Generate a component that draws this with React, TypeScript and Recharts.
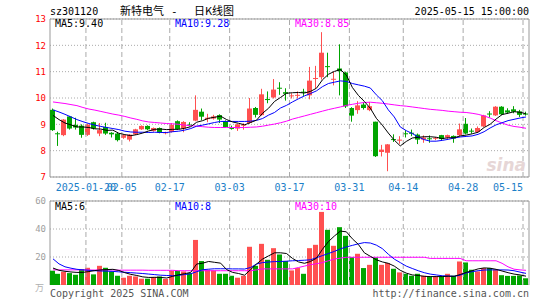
import { ComposedChart, Bar, Line, XAxis, YAxis, CartesianGrid, ReferenceLine, ReferenceArea } from "recharts";

const dates = [
  "2025-01-10", "2025-01-13", "2025-01-14", "2025-01-15", "2025-01-16", "2025-01-17", "2025-01-20", "2025-01-21",
  "2025-01-22", "2025-01-23", "2025-01-24", "2025-01-27", "2025-02-05", "2025-02-06", "2025-02-07", "2025-02-10",
  "2025-02-11", "2025-02-12", "2025-02-13", "2025-02-14", "2025-02-17", "2025-02-18", "2025-02-19", "2025-02-20",
  "2025-02-21", "2025-02-24", "2025-02-25", "2025-02-26", "2025-02-27", "2025-02-28", "2025-03-03", "2025-03-04",
  "2025-03-05", "2025-03-06", "2025-03-07", "2025-03-10", "2025-03-11", "2025-03-12", "2025-03-13", "2025-03-14",
  "2025-03-17", "2025-03-18", "2025-03-19", "2025-03-20", "2025-03-21", "2025-03-24", "2025-03-25", "2025-03-26",
  "2025-03-27", "2025-03-28", "2025-03-31", "2025-04-01", "2025-04-02", "2025-04-03", "2025-04-07", "2025-04-08",
  "2025-04-09", "2025-04-10", "2025-04-11", "2025-04-14", "2025-04-15", "2025-04-16", "2025-04-17", "2025-04-18",
  "2025-04-21", "2025-04-22", "2025-04-23", "2025-04-24", "2025-04-25", "2025-04-28", "2025-04-29", "2025-04-30",
  "2025-05-06", "2025-05-07", "2025-05-08", "2025-05-09", "2025-05-12", "2025-05-13", "2025-05-14", "2025-05-15",
];

const open = [
  9.55, 8.66, 8.59, 9.30, 8.98, 8.95, 8.60, 9.08, 8.65, 8.90, 8.68, 8.65, 8.49, 8.42, 8.62, 8.81,
  8.94, 8.75, 8.86, 8.66, 8.71, 9.12, 8.84, 8.99, 9.14, 9.48, 9.20, 9.22, 9.35, 9.12, 8.86, 8.84,
  8.95, 9.05, 9.62, 9.35, 9.96, 10.02, 10.39, 10.22, 10.08, 10.09, 10.24, 10.10, 10.74, 10.79, 11.21, 10.70,
  11.12, 10.97, 9.62, 9.54, 9.75, 9.54, 9.10, 7.95, 7.92, 8.44, 8.38, 8.66, 8.68, 8.61, 8.42, 8.47,
  8.46, 8.59, 8.50, 8.56, 8.59, 9.02, 8.76, 8.71, 8.92, 9.41, 9.34, 9.67, 9.53, 9.57, 9.49, 9.41,
];
const close = [
  8.78, 8.64, 9.18, 8.84, 8.88, 8.60, 8.99, 8.84, 8.78, 8.65, 8.62, 8.40, 8.59, 8.61, 8.81, 8.94,
  8.81, 8.86, 8.68, 8.70, 8.98, 8.82, 9.09, 8.97, 9.55, 9.29, 9.25, 9.30, 9.18, 8.90, 8.84, 9.00,
  8.99, 9.60, 9.36, 10.14, 9.94, 10.32, 10.36, 10.16, 10.10, 10.12, 10.20, 10.66, 10.76, 11.72, 11.18, 10.73,
  11.02, 9.68, 9.33, 9.72, 9.62, 9.69, 7.79, 8.04, 8.24, 8.42, 8.42, 8.64, 8.66, 8.42, 8.50, 8.45,
  8.49, 8.44, 8.59, 8.46, 8.81, 8.65, 8.74, 8.86, 9.34, 9.39, 9.67, 9.38, 9.45, 9.48, 9.36, 9.37,
];
const high = [
  9.60, 8.72, 9.20, 9.32, 9.25, 9.00, 9.02, 9.10, 9.05, 9.06, 8.70, 8.70, 8.62, 8.63, 8.83, 8.96,
  8.96, 8.88, 8.88, 8.72, 9.05, 9.15, 9.12, 9.08, 10.10, 9.60, 9.40, 9.36, 9.38, 9.15, 8.95, 9.02,
  9.04, 10.00, 9.66, 10.35, 10.25, 10.72, 10.60, 10.37, 10.18, 10.25, 10.35, 11.18, 11.22, 12.50, 11.72, 11.00,
  12.04, 11.00, 9.65, 9.88, 9.85, 9.85, 9.10, 8.22, 8.25, 8.62, 8.55, 8.78, 8.80, 8.65, 8.58, 8.58,
  8.52, 8.60, 8.61, 8.58, 9.03, 9.24, 8.84, 8.92, 9.36, 9.50, 9.69, 9.69, 9.61, 9.69, 9.55, 9.48,
];
const low = [
  8.75, 8.18, 8.55, 8.80, 8.80, 8.49, 8.56, 8.80, 8.55, 8.60, 8.50, 8.35, 8.45, 8.35, 8.60, 8.79,
  8.78, 8.72, 8.66, 8.62, 8.69, 8.80, 8.70, 8.92, 9.12, 9.16, 9.08, 9.18, 9.05, 8.88, 8.80, 8.75,
  8.80, 9.02, 9.26, 9.33, 9.80, 9.98, 10.12, 9.90, 9.98, 9.98, 10.08, 9.95, 10.35, 10.70, 10.79, 10.48,
  10.10, 9.62, 9.10, 9.40, 9.56, 9.50, 7.76, 7.78, 7.22, 8.33, 8.26, 8.50, 8.55, 8.25, 8.30, 8.30,
  8.40, 8.40, 8.45, 8.30, 8.54, 8.62, 8.65, 8.68, 8.90, 9.26, 9.32, 9.35, 9.40, 9.42, 9.28, 9.33,
];

const ma5 = [
  9.34, 9.18, 9.05, 8.98, 8.90, 8.90, 8.88, 8.83, 8.82, 8.77, 8.78, 8.66, 8.61, 8.57, 8.61, 8.67,
  8.75, 8.81, 8.82, 8.80, 8.81, 8.81, 8.85, 8.91, 9.08, 9.14, 9.23, 9.27, 9.31, 9.18, 9.09, 9.04,
  8.98, 9.07, 9.16, 9.42, 9.61, 9.87, 10.02, 10.18, 10.20, 10.21, 10.19, 10.25, 10.37, 10.69, 10.90, 11.01,
  11.08, 10.87, 10.40, 10.10, 9.87, 9.61, 9.23, 8.97, 8.67, 8.40, 8.18, 8.35, 8.48, 8.51, 8.53, 8.53,
  8.51, 8.46, 8.49, 8.49, 8.56, 8.59, 8.64, 8.70, 8.88, 9.00, 9.20, 9.37, 9.42, 9.48, 9.46, 9.40,
];
const ma10 = [
  9.55, 9.47, 9.38, 9.28, 9.18, 9.10, 9.03, 8.97, 8.92, 8.88, 8.84, 8.80, 8.74, 8.71, 8.70, 8.70,
  8.69, 8.70, 8.69, 8.69, 8.72, 8.74, 8.78, 8.84, 8.93, 8.97, 9.02, 9.07, 9.11, 9.11, 9.11, 9.11,
  9.11, 9.12, 9.15, 9.22, 9.35, 9.45, 9.62, 9.72, 9.85, 9.97, 10.08, 10.17, 10.27, 10.43, 10.55, 10.60,
  10.65, 10.63, 10.55, 10.50, 10.45, 10.38, 10.12, 9.90, 9.55, 9.28, 8.90, 8.76, 8.65, 8.52, 8.42, 8.36,
  8.36, 8.39, 8.43, 8.48, 8.52, 8.54, 8.56, 8.62, 8.72, 8.86, 8.98, 9.06, 9.14, 9.19, 9.24, 9.28,
];
const ma30 = [
  9.85, 9.82, 9.79, 9.75, 9.71, 9.64, 9.58, 9.54, 9.49, 9.44, 9.39, 9.35, 9.30, 9.24, 9.19, 9.13,
  9.09, 9.07, 9.05, 9.03, 9.02, 9.00, 8.97, 8.95, 8.93, 8.91, 8.89, 8.88, 8.88, 8.88, 8.88, 8.88,
  8.88, 8.89, 8.90, 8.93, 8.97, 9.01, 9.06, 9.12, 9.20, 9.26, 9.32, 9.38, 9.44, 9.50, 9.56, 9.61,
  9.66, 9.72, 9.76, 9.80, 9.83, 9.84, 9.82, 9.80, 9.77, 9.74, 9.71, 9.69, 9.66, 9.63, 9.60, 9.57,
  9.55, 9.53, 9.50, 9.48, 9.46, 9.45, 9.42, 9.38, 9.32, 9.24, 9.14, 9.05, 8.97, 8.92, 8.89, 8.85,
];

// 成交量（万手）
const volume = [
  10.2, 8.0, 9.5, 8.5, 7.3, 11.4, 12.3, 7.6, 13.7, 12.3, 9.7, 6.6, 5.2, 6.6, 6.1, 4.5,
  4.5, 5.7, 6.1, 4.3, 10.2, 10.2, 9.7, 8.5, 32.2, 17.1, 10.9, 10.4, 8.0, 8.0, 6.6, 5.2,
  6.6, 27.3, 13.7, 29.4, 18.0, 26.3, 21.8, 17.1, 10.4, 12.1, 8.0, 26.3, 28.7, 52.2, 39.4, 28.0,
  41.3, 35.1, 19.9, 22.3, 12.1, 14.4, 19.7, 14.4, 15.7, 11.6, 9.0, 8.0, 6.6, 8.0, 6.6, 6.1,
  6.1, 6.1, 8.0, 6.6, 16.8, 16.1, 10.9, 9.7, 12.1, 12.1, 10.9, 7.0, 6.5, 6.5, 6.8, 4.8,
];
const volMa5 = [
  12.1, 10.5, 9.8, 9.3, 9.0, 9.0, 9.6, 10.3, 10.8, 11.0, 11.2, 10.4, 8.8, 7.6, 6.8, 5.8,
  5.4, 5.5, 5.4, 5.0, 6.2, 7.3, 8.1, 9.0, 15.0, 15.6, 16.8, 16.2, 15.6, 11.0, 9.0, 8.2,
  7.0, 11.0, 15.0, 18.5, 20.8, 23.0, 23.0, 22.5, 19.0, 16.5, 15.5, 16.8, 19.1, 25.5, 31.0, 35.0,
  38.5, 38.0, 33.0, 29.0, 23.0, 20.5, 18.0, 16.5, 15.5, 13.5, 10.5, 8.5, 7.2, 6.8, 6.2, 6.0,
  6.0, 6.0, 6.3, 6.2, 7.5, 9.0, 10.2, 11.5, 12.2, 12.0, 11.2, 10.0, 8.8, 7.8, 7.2, 6.3,
];
const volMa10 = [
  18.7, 15.1, 13.0, 12.0, 11.2, 10.8, 10.5, 10.2, 10.0, 9.9, 9.7, 9.4, 9.1, 8.8, 8.5, 8.2,
  7.8, 7.4, 7.0, 6.8, 6.6, 6.9, 7.5, 8.0, 9.5, 10.9, 11.3, 11.6, 11.6, 11.6, 11.5, 11.5,
  11.4, 12.5, 15.0, 16.0, 16.4, 16.7, 16.8, 17.0, 17.3, 17.5, 17.7, 18.0, 19.5, 21.0, 22.5, 24.0,
  25.8, 27.2, 28.3, 29.4, 30.3, 30.0, 28.5, 26.0, 22.0, 18.5, 16.0, 13.5, 11.8, 10.2, 8.8, 7.8,
  7.2, 6.6, 6.4, 6.2, 7.0, 8.6, 9.5, 10.2, 10.7, 10.8, 10.8, 10.8, 10.7, 10.2, 9.2, 8.3,
];
const volMa30 = [
  10.8, 10.8, 10.8, 10.8, 10.8, 10.8, 10.7, 10.7, 10.7, 10.7, 10.7, 10.6, 10.6, 10.6, 10.6, 10.6,
  10.5, 10.5, 10.5, 10.5, 10.5, 10.2, 10.2, 10.2, 10.2, 10.2, 10.2, 10.2, 10.2, 10.2, 10.2, 10.2,
  10.2, 10.2, 10.8, 11.5, 11.5, 11.5, 11.5, 11.5, 11.5, 12.5, 13.5, 14.5, 15.2, 16.0, 17.3, 18.5,
  19.2, 19.8, 19.8, 19.8, 19.8, 19.8, 19.8, 19.8, 19.8, 19.8, 19.8, 19.8, 19.8, 19.8, 19.8, 19.0,
  19.0, 19.0, 19.0, 19.0, 19.0, 17.3, 17.3, 17.3, 17.3, 17.3, 17.3, 15.5, 13.0, 11.3, 10.8, 10.5,
];

const tickDates = ["2025-01-20", "2025-02-05", "2025-02-17", "2025-03-03", "2025-03-17", "2025-03-31", "2025-04-14", "2025-04-28", "2025-05-15"];
const tickLabels = ["2025-01-20", "02-05", "02-17", "03-03", "03-17", "03-31", "04-14", "04-28", "05-15"];
const priceTicks = [7, 8, 9, 10, 11, 12, 13];
const volTicks = [20, 40, 60];

const RED = "#ff5050";
const GREEN = "#00a400";
const GRID = "#aaaaaa";
const MONO = "'DejaVu Sans Mono', monospace";

const data = dates.map((d, i) => ({
  date: d,
  range: [low[i], high[i]],
  open: open[i],
  close: close[i],
  high: high[i],
  low: low[i],
  ma5: ma5[i],
  ma10: ma10[i],
  ma30: ma30[i],
  vol: volume[i],
  vma5: volMa5[i],
  vma10: volMa10[i],
  vma30: volMa30[i],
}));

function Candle(props: any) {
  const { x, y, width, height, payload } = props;
  if (!payload) return <g />;
  const { open: o, close: c, high: h, low: l } = payload;
  const color = c > o ? RED : GREEN;
  const top = Math.min(y, y + height);
  const span = Math.abs(height);
  const k = h - l > 0 ? span / (h - l) : 0;
  const yOf = (v: number) => top + (h - v) * k;
  const bTop = yOf(Math.max(o, c));
  const bBot = yOf(Math.min(o, c));
  const x0 = Math.floor(x);
  const cx = x0 + 2.5;
  return (
    <g>
      <line x1={cx} x2={cx} y1={top} y2={top + span} stroke={color} strokeWidth={1} />
      <rect x={x0} y={bTop} width={5} height={Math.max(1, bBot - bTop)} fill={color} />
    </g>
  );
}

function VolBar(props: any) {
  const { x, y, height, payload } = props;
  if (!payload) return <g />;
  const color = payload.close > payload.open ? RED : GREEN;
  return <rect x={Math.floor(x)} y={y} width={5} height={Math.max(0, height)} fill={color} />;
}

function DateTick(props: any) {
  const { x, y, payload } = props;
  const idx = tickDates.indexOf(payload.value);
  if (idx < 0) return <g />;
  const last = idx === tickDates.length - 1;
  return (
    <text x={x - 3} y={y + 12} textAnchor={last ? "end" : "middle"} fill="#1c80c8" fontSize={10} fontFamily={MONO}>
      {tickLabels[idx]}
    </text>
  );
}

export default function App() {
  return (
    <div style={{ position: "absolute", left: 0, top: 0, width: 545, height: 300, background: "#fff" }}>
      <div style={{ position: "absolute", left: 0, top: 0 }}>
        <ComposedChart width={545} height={195} data={data} margin={{ top: 19, right: 16, left: 0, bottom: 0 }}>
          <CartesianGrid vertical={false} stroke={GRID} strokeDasharray="1 2" />
          <XAxis dataKey="date" interval={0} height={18} tickSize={0} tickLine={false} axisLine={false} tick={<DateTick />} />
          <YAxis
            domain={[7, 13]}
            ticks={priceTicks}
            interval={0}
            width={50}
            tickSize={0}
            tickMargin={4}
            tickLine={false}
            axisLine={false}
            tick={{ fill: "#ff0000", fontSize: 9, fontFamily: MONO }}
          />
          {tickDates.map((d) => (
            <ReferenceLine key={d} x={d} position="start" stroke={GRID} strokeDasharray="5 3" />
          ))}
          <ReferenceArea y1={7} y2={13} fill="none" stroke="#999" strokeWidth={1} ifOverflow="visible" />
          <Bar dataKey="range" barSize={5} shape={<Candle />} isAnimationActive={false} />
          <Line dataKey="ma30" stroke="#ff00ff" strokeWidth={1} dot={false} isAnimationActive={false} />
          <Line dataKey="ma10" stroke="#0000ff" strokeWidth={1} dot={false} isAnimationActive={false} />
          <Line dataKey="ma5" stroke="#000000" strokeWidth={1} dot={false} isAnimationActive={false} />
        </ComposedChart>
      </div>
      <div style={{ position: "absolute", left: 0, top: 190 }}>
        <ComposedChart width={545} height={95} data={data} margin={{ top: 11, right: 16, left: 0, bottom: 0 }}>
          <CartesianGrid vertical={false} stroke={GRID} strokeDasharray="1 2" />
          <XAxis dataKey="date" hide />
          <YAxis
            domain={[0, 60]}
            ticks={volTicks}
            interval={0}
            width={50}
            tickSize={0}
            tickMargin={4}
            tickLine={false}
            axisLine={false}
            tick={{ fill: "#a0a0a0", fontSize: 9, fontFamily: MONO }}
          />
          {tickDates.map((d) => (
            <ReferenceLine key={d} x={d} position="start" stroke={GRID} strokeDasharray="5 3" />
          ))}
          <ReferenceArea y1={0} y2={60} fill="none" stroke="#999" strokeWidth={1} ifOverflow="visible" />
          <Bar dataKey="vol" barSize={5} shape={<VolBar />} isAnimationActive={false} />
          <Line dataKey="vma30" stroke="#ff00ff" strokeWidth={1} dot={false} isAnimationActive={false} />
          <Line dataKey="vma10" stroke="#0000ff" strokeWidth={1} dot={false} isAnimationActive={false} />
          <Line dataKey="vma5" stroke="#000000" strokeWidth={1} dot={false} isAnimationActive={false} />
        </ComposedChart>
      </div>
      <svg width={545} height={300} style={{ position: "absolute", left: 0, top: 0, pointerEvents: "none" }}>
        <text x={50} y={15} fontSize={10} fontFamily={MONO} fill="#000">sz301120</text>
        <text x={120} y={15} fontSize={11} fontFamily="'Noto Sans CJK SC', sans-serif" fill="#000">新特电气</text>
        <text x={171} y={15} fontSize={11} fontFamily={MONO} fill="#000">-</text>
        <text x={194} y={15} fontSize={11} fontFamily="'Noto Sans CJK SC', sans-serif" fill="#000">日K线图</text>
        <text x={529} y={15} textAnchor="end" fontSize={10} fontFamily={MONO} fill="#000">2025-05-15 15:00:00</text>

        <text x={55} y={27} fontSize={10} fontFamily={MONO} fill="#000">MA5:9.40</text>
        <text x={175} y={27} fontSize={10} fontFamily={MONO} fill="#0000ff">MA10:9.28</text>
        <text x={295} y={27} fontSize={10} fontFamily={MONO} fill="#ff00ff">MA30:8.85</text>

        <text x={526} y={171} textAnchor="end" fontSize={17} fontStyle="italic" fontWeight="bold" fontFamily="'DejaVu Sans', sans-serif" fill="#e6d6d6">sina</text>

        <text x={55} y={210} fontSize={10} fontFamily={MONO} fill="#000">MA5:6</text>
        <text x={175} y={210} fontSize={10} fontFamily={MONO} fill="#0000ff">MA10:8</text>
        <text x={295} y={210} fontSize={10} fontFamily={MONO} fill="#ff00ff">MA30:10</text>

        <text x={44} y={291} textAnchor="end" fontSize={9} fontFamily="'Noto Sans CJK SC', sans-serif" fill="#b0b0b0">万</text>
        <text x={50} y={297} fontSize={10} fontFamily={MONO} fill="#555">Copyright 2025 SINA.COM</text>
        <text x={529} y={297} textAnchor="end" fontSize={10} fontFamily={MONO} fill="#555">http://finance.sina.com.cn</text>
      </svg>
    </div>
  );
}
